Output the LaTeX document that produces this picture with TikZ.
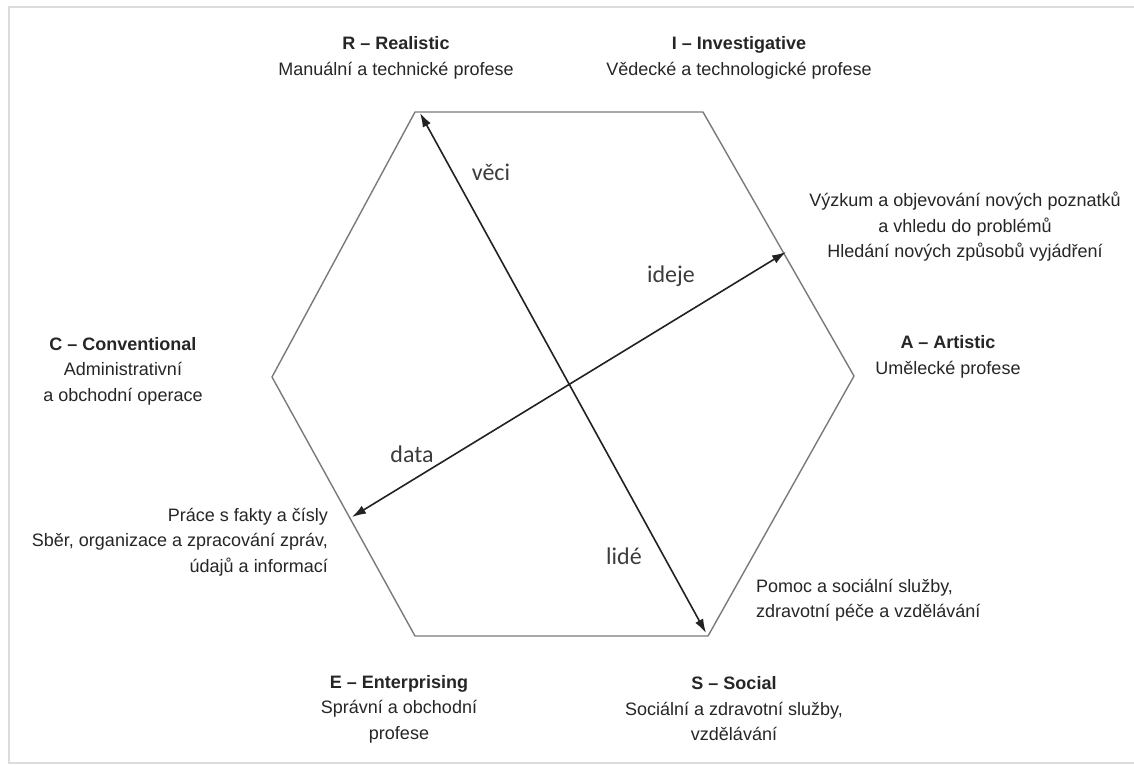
\documentclass[tikz,border=0pt]{standalone}
\usepackage{fontspec}
\setmainfont{Liberation Sans}
\newfontfamily\calib{Carlito}
\usetikzlibrary{arrows.meta}
\definecolor{txt}{HTML}{262626}
\definecolor{hexc}{HTML}{7A7A7A}
\definecolor{arrc}{HTML}{222222}
\definecolor{lblc}{HTML}{3C3C3C}
\definecolor{framec}{HTML}{DCDCDC}
\tikzset{
  desc/.style={inner sep=0pt, text=txt, align=center, font=\fontsize{18}{25.5}\selectfont},
  axislbl/.style={inner sep=0pt, text=lblc, font=\calib\fontsize{24}{28}\selectfont},
  hexline/.style={draw=hexc, line width=1.4pt, line join=round},
  axis/.style={draw=arrc, line width=1.6pt, {Latex[length=14pt,width=9pt]}-{Latex[length=14pt,width=9pt]}},
}
\begin{document}
\begin{tikzpicture}[x=1pt,y=-1pt]
\useasboundingbox (0,0) rectangle (1134,764);
\fill[white] (0,0) rectangle (1134,764);
% frame
\draw[framec, line width=1.2pt] (1134,7) -- (9,7) -- (9,764);
\draw[framec, line width=1.2pt] (9,763) -- (1134,763);
% hexagon
\coordinate (R) at (415,112);
\coordinate (I) at (703,112);
\coordinate (A) at (854,376);
\coordinate (S) at (708,636);
\coordinate (E) at (415,636);
\coordinate (C) at (272,377);
\draw[hexline] (R) -- (I) -- (A) -- (S) -- (E) -- (C) -- cycle;
% axes
\coordinate (vt) at (420,113);
\coordinate (vb) at (706,633);
\coordinate (dl) at (352,517);
\coordinate (ir) at (786,252);
\draw[axis] (vt) -- (vb);
\draw[axis] (dl) -- (ir);
% axis labels
\node[axislbl] (veci) at (491,172) {věci};
\node[axislbl] (ideje) at (671,276) {ideje};
\node[axislbl] (data) at (412,454) {data};
\node[axislbl] (lide) at (624,556) {lidé};
% type labels
\node[desc] (rt) at (396,58) {\textbf{R – Realistic}\\Manuální a technické profese};
\node[desc] (it) at (739,58) {\textbf{I – Investigative}\\Vědecké a technologické profese};
\node[desc] (id) at (965,227) {Výzkum a objevování nových poznatků\\a vhledu do problémů\\Hledání nových způsobů vyjádření};
\node[desc] (at) at (948,357) {\textbf{A – Artistic}\\Umělecké profese};
\node[desc] (ct) at (123,371) {\textbf{C – Conventional}\\Administrativní\\a obchodní operace};
\node[desc, align=right, anchor=east] (dd) at (328,542) {Práce s fakty a čísly\\Sběr, organizace a zpracování zpráv,\\údajů a informací};
\node[desc, align=left, anchor=west] (sd) at (756,600) {Pomoc a sociální služby,\\zdravotní péče a vzdělávání};
\node[desc] (et) at (399,709) {\textbf{E – Enterprising}\\Správní a obchodní\\profese};
\node[desc] (st) at (734,709) {\textbf{S – Social}\\Sociální a zdravotní služby,\\vzdělávání};
\end{tikzpicture}
\end{document}
